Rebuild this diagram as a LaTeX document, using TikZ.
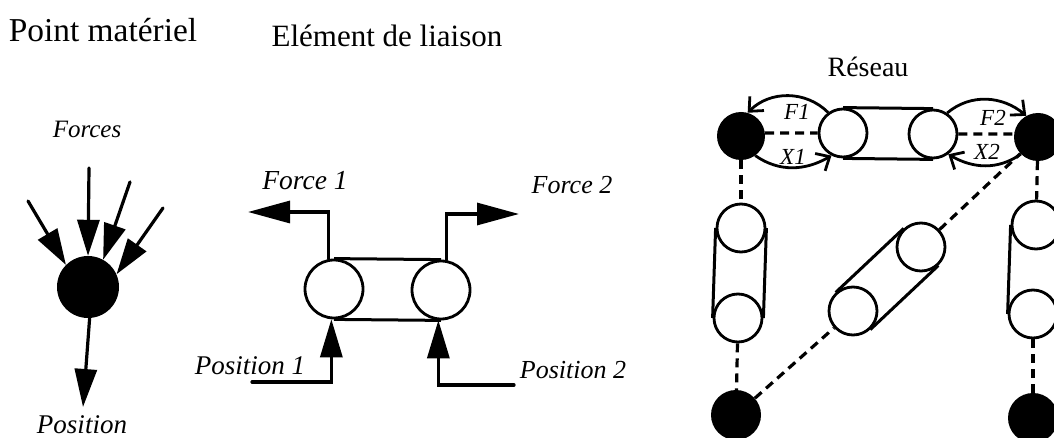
\documentclass[tikz,border=0pt]{standalone}
\usepackage{fontspec}
\setmainfont{Liberation Serif}
\usetikzlibrary{arrows.meta}
\tikzset{
  blk/.style={circle,fill=black,inner sep=0pt,minimum size=#1},
  wht/.style={circle,draw=black,line width=2.8pt,fill=white,inner sep=0pt,minimum size=#1},
  ttl/.style={inner sep=0pt,font=\fontsize{#1}{#1}\selectfont},
  lbl/.style={inner sep=0pt,font=\fontsize{#1}{#1}\selectfont\itshape},
  lbl/.default=26,
  smalllbl/.style={inner sep=0pt,font=\fontsize{23}{25}\selectfont\itshape},
  solidline/.style={line width=3pt},
  farrow/.style={line width=3.2pt,line cap=round,-{Triangle[length=#1,width=22pt]}},
  farrow/.default=38pt,
  dashline/.style={line width=3.2pt,dash pattern=on 9pt off 6pt},
  openarrow/.style={line width=2.8pt,-{Straight Barb[length=11pt,width=20pt,line width=2.8pt]}}
}
\begin{document}
\begin{tikzpicture}[x=1pt,y=-1pt]
\useasboundingbox (0,0) rectangle (1054,438);
\clip (0,0) rectangle (1054,438);
% Titles
\node[ttl=33.4] (t1) at (103,30) {Point matériel};
\node[ttl=31] (t2) at (387,36) {Elément de liaison};
\node[ttl=28] (t3) at (868,67) {Réseau};
% Point materiel
\node[blk=62pt] (pm) at (88,287) {};
\node[lbl=25] (forces) at (87,129) {Forces};
\node[lbl=27] (position) at (82,425) {Position};
\coordinate (a1) at (89,168);
\coordinate (a2) at (130,182);
\coordinate (a3) at (163,208);
\coordinate (a4) at (28,201);
\coordinate (a5) at (83,407);
\draw[farrow=36pt] (a1) -- (pm.90);
\draw[farrow=36pt] (a2) -- (pm.61);
\draw[farrow=36pt] (a3) -- (pm.24);
\draw[farrow=36pt] (a4) -- (pm.135);
\draw[farrow] (pm.273) -- (a5);
% Element de liaison
\node[wht=58pt] (cl) at (334,289) {};
\node[wht=58pt] (cr) at (441,290) {};
\draw[solidline] (cl.north) -- (cr.north);
\draw[solidline] (cl.south) -- (cr.south);
\coordinate (f1tip) at (248,212);
\coordinate (f2tip) at (519,214);
\coordinate (p1s) at (252,382);
\coordinate (p2s) at (514,385);
\draw[farrow=42pt] (cl.100) |- (f1tip);
\draw[farrow=42pt] (cr.80) |- (f2tip);
\draw[farrow] (p1s) -| (cl.265);
\draw[farrow] (p2s) -| (cr.265);
\node[lbl=27.5] (fo1) at (305,181) {Force 1};
\node[lbl=26] (fo2) at (572,185) {Force 2};
\node[lbl=27] (po1) at (250,366) {Position 1};
\node[lbl=26] (po2) at (573,370) {Position 2};
% Reseau
\node[blk=48pt] (tl) at (741,136) {};
\node[blk=48pt] (tr) at (1038,137) {};
\node[blk=50pt] (bl) at (736,415) {};
\node[blk=50pt] (br) at (1033,418) {};
\node[wht=48pt] (w1) at (843,133) {};
\node[wht=48pt] (w2) at (933,134) {};
\node[wht=48pt] (v1) at (741,228) {};
\node[wht=48pt] (v2) at (738,318) {};
\node[wht=48pt] (d1) at (853,311) {};
\node[wht=48pt] (d2) at (921,247) {};
\node[wht=48pt] (r1) at (1036,225) {};
\node[wht=48pt] (r2) at (1033,314) {};
\draw[solidline] (w1.north) -- (w2.north);
\draw[solidline] (w1.south) -- (w2.south);
\draw[solidline] (v1.west) -- (v2.west);
\draw[solidline] (v1.east) -- (v2.east);
\draw[solidline] (r1.west) -- (r2.west);
\draw[solidline] (r1.east) -- (r2.east);
\draw[solidline] (d1.133) -- (d2.133);
\draw[solidline] (d1.313) -- (d2.313);
\draw[dashline] (tl.7) -- (w1.west);
\draw[dashline] (w2.east) -- (tr.173);
\draw[dashline] (tl) -- (v1);
\draw[dashline] (v2) -- (bl);
\draw[dashline] (tr) -- (r1);
\draw[dashline] (r2) -- (br);
\draw[dashline] (bl) -- (d1);
\draw[dashline] (d2) -- (tr);
\draw[openarrow] (w1.126) to[out=135,in=45] (tl.74);
\draw[openarrow] (tl.-54) to[out=-35,in=210] (w1.243);
\draw[openarrow] (w2.56) to[out=40,in=140] (tr.119);
\draw[openarrow] (tr.225) to[out=215,in=-30] (w2.-53);
\node[smalllbl] (lf1) at (797,112) {F1};
\node[smalllbl] (lx1) at (793,157) {X1};
\node[smalllbl] (lf2) at (993,118) {F2};
\node[smalllbl] (lx2) at (987,152) {X2};
\end{tikzpicture}
\end{document}
